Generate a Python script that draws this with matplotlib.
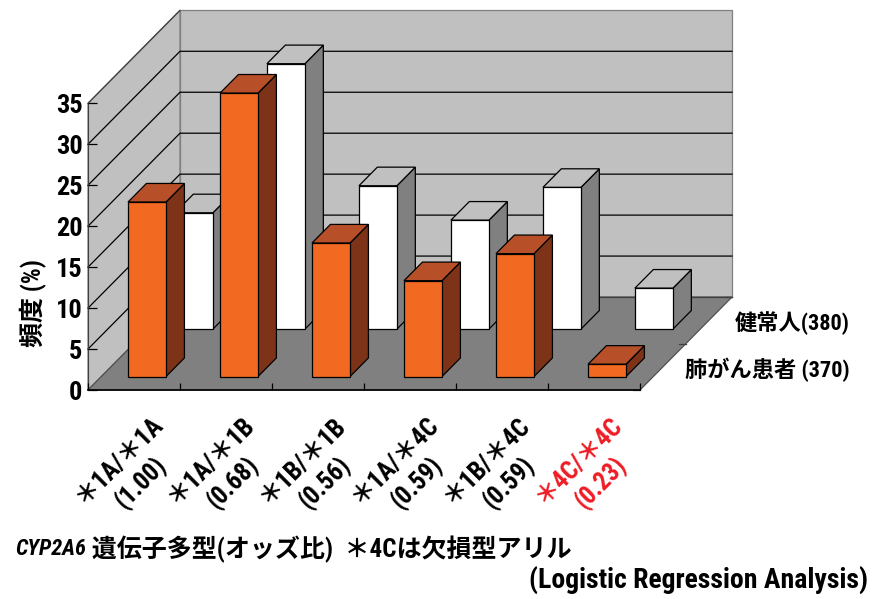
import matplotlib
matplotlib.use("Agg")
import matplotlib.pyplot as plt
from matplotlib import font_manager
from matplotlib.patches import Polygon

# --- data: genotype frequency (%) ---
genotypes = ["＊1A/＊1A", "＊1A/＊1B", "＊1B/＊1B", "＊1A/＊4C", "＊1B/＊4C", "＊4C/＊4C"]
odds_ratios = ["1.00", "0.68", "0.56", "0.59", "0.59", "0.23"]
patients = [21.3, 34.6, 16.3, 11.7, 15.0, 1.5]    # 肺がん患者 (370)
healthy = [14.2, 32.4, 17.5, 13.3, 17.3, 5.0]     # 健常人 (380)
series_names = ["肺がん患者 (370)", "健常人(380)"]
yticks = [0, 5, 10, 15, 20, 25, 30, 35]

W, H = 872, 599

installed = {f.name for f in font_manager.fontManager.ttflist}
narrow = next((f for f in ["Liberation Sans Narrow", "DejaVu Sans Condensed",
                           "Roboto Condensed", "Liberation Sans"] if f in installed),
              "DejaVu Sans")
FONT = [narrow, "Noto Sans CJK JP", "DejaVu Sans"]
plt.rcParams["font.family"] = FONT
plt.rcParams["font.weight"] = "bold"

# oblique projection: depth d in [0, 1] shifts one category right and DY units up
DX, DY = 1.0, 11.35
YMAX = 35
BAR_LEFT, BAR_WIDTH, BAR_DEPTH = 0.29, 0.413, 0.2
ROW_D = [0.145, 0.655]   # front row (patients), back row (healthy)

WALL = "#c0c0c0"
FLOOR = "#808080"
FACES = [
    ("#f26a22", "#b75028", "#7c3318"),   # front, top, side
    ("#ffffff", "#c0c0c0", "#808080"),
]


def proj(x, z, d):
    return (x + d * DX, z + d * DY)


fig = plt.figure(figsize=(W / 100, H / 100), dpi=100)
ax = fig.add_axes([88 / W, (H - 390) / H, 552 / W, 286.7 / H])
ax.set_xlim(0, 6)
ax.set_ylim(0, YMAX)
ax.patch.set_visible(False)
n = len(genotypes)


def poly(pts, fc, ec="black", lw=0.9, z=1):
    ax.add_patch(Polygon(pts, closed=True, facecolor=fc, edgecolor=ec,
                         linewidth=lw, clip_on=False, zorder=z, joinstyle="miter"))


# walls and floor
poly([proj(0, 0, 0), proj(0, YMAX, 0), proj(0, YMAX, 1), proj(0, 0, 1)], WALL, ec="#808080", z=0.5)
poly([proj(0, 0, 1), proj(0, YMAX, 1), proj(n, YMAX, 1), proj(n, 0, 1)], WALL, ec="#808080", z=0.5)
poly([proj(0, 0, 0), proj(n, 0, 0), proj(n, 0, 1), proj(0, 0, 1)], FLOOR, ec="#505050", z=0.6)

for v in yticks[1:-1]:
    xs, ys = zip(proj(0, v, 0), proj(0, v, 1), proj(n, v, 1))
    ax.plot(xs, ys, color="black", lw=0.9, clip_on=False, zorder=0.7)
xs, ys = zip(proj(0, YMAX, 0), proj(0, YMAX, 1))
ax.plot(xs, ys, color="#404040", lw=0.9, clip_on=False, zorder=0.7)
xs, ys = zip(proj(0, 0, 1), proj(n, 0, 1))
ax.plot(xs, ys, color="#404040", lw=0.9, clip_on=False, zorder=0.7)

# series-axis ticks on the floor's right edge
for d in [0, 0.5, 1]:
    xs, ys = zip(proj(n - 0.08, 0, d), proj(n, 0, d))
    ax.plot(xs, ys, color="#404040", lw=0.9, clip_on=False, zorder=0.7)

# bars: back row first, then front row
for row in (1, 0):
    vals = [patients, healthy][row]
    front, top, side = FACES[row]
    d0 = ROW_D[row]
    d1 = d0 + BAR_DEPTH
    zb = 2 if row == 1 else 4
    for i, h in enumerate(vals):
        x0 = i + BAR_LEFT
        x1 = x0 + BAR_WIDTH
        poly([proj(x1, 0, d0), proj(x1, 0, d1), proj(x1, h, d1), proj(x1, h, d0)], side, z=zb)
        poly([proj(x0, h, d0), proj(x1, h, d0), proj(x1, h, d1), proj(x0, h, d1)], top, z=zb)
        poly([proj(x0, 0, d0), proj(x1, 0, d0), proj(x1, h, d0), proj(x0, h, d0)], front, z=zb + 0.1)

# axes
for s in ["top", "right"]:
    ax.spines[s].set_visible(False)
ax.spines["left"].set_color("#404040")
ax.spines["bottom"].set_linewidth(1.2)
ax.spines["left"].set_zorder(0.8)
ax.spines["bottom"].set_zorder(0.8)
ax.set_yticks(yticks)
ax.set_yticklabels([str(v) for v in yticks], fontsize=19, fontweight="bold")
ax.tick_params(axis="y", direction="in", length=6.5, width=0.9, pad=4)
ax.set_xticks(range(n + 1))
ax.set_xticklabels([])
ax.tick_params(axis="x", direction="in", length=5, width=0.9)

for i, (g, r) in enumerate(zip(genotypes, odds_ratios)):
    color = "#ee1c25" if i == n - 1 else "black"
    ax.annotate(f"{g}\n({r})", xy=(i + 0.5, 0), xytext=(-3, -59),
                textcoords="offset points", rotation=45, ha="center", va="center",
                multialignment="center", fontsize=18, fontweight="bold",
                color=color, linespacing=1.3, annotation_clip=False)

# series labels
fig.text(850 / W, 1 - 370 / H, series_names[0], ha="right", va="center",
         fontsize=16, fontweight="bold")
fig.text(850 / W, 1 - 323 / H, series_names[1], ha="right", va="center",
         fontsize=16, fontweight="bold")

fig.text(33 / W, 1 - 303 / H, "頻度 (%)", rotation=90, ha="center", va="center",
         fontsize=18, fontweight="bold")

gene = fig.text(15 / W, 1 - 549 / H, "CYP2A6", ha="left", va="center", fontsize=16,
                fontweight="bold", style="italic")
ax.annotate(" 遺伝子多型(オッズ比)  ＊4Cは欠損型アリル", xy=(1, 0.5), xycoords=gene,
            ha="left", va="center", fontsize=18, fontweight="bold",
            annotation_clip=False)
fig.text(868 / W, 1 - 580 / H, "(Logistic Regression Analysis)", ha="right",
         va="center", fontsize=20, fontweight="bold")

fig.savefig("out.png", dpi=100)
